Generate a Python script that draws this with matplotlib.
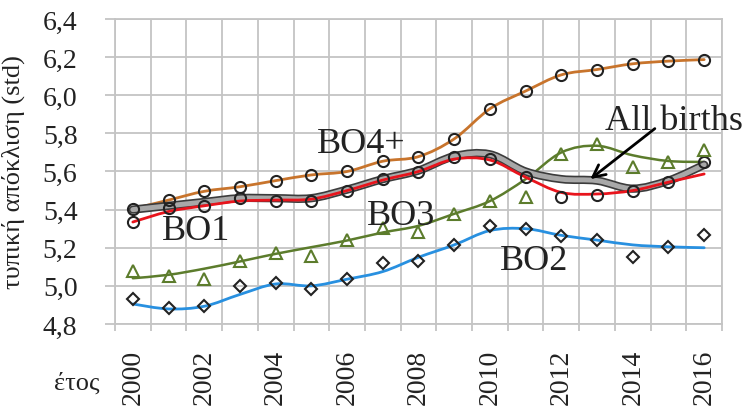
import numpy as np
import matplotlib
matplotlib.use('Agg')
import matplotlib.pyplot as plt
from matplotlib.path import Path
from matplotlib.patches import PathPatch
from matplotlib.ticker import FuncFormatter

plt.rcParams['font.family'] = ['Liberation Serif', 'DejaVu Serif']

years = list(range(2000, 2017))

# raw points (markers)
bo1_pts = [5.335, 5.41, 5.42, 5.46, 5.447, 5.447, 5.50, 5.561, 5.596, 5.675, 5.663, 5.570, 5.465, 5.477, 5.50, 5.544, 5.649]
bo2_pts = [4.931, 4.882, 4.896, 5.001, 5.015, 4.984, 5.036, 5.12, 5.132, 5.215, 5.316, 5.299, 5.26, 5.243, 5.15, 5.206, 5.267]
bo3_pts = [5.08, 5.054, 5.036, 5.132, 5.173, 5.159, 5.243, 5.305, 5.281, 5.377, 5.447, 5.465, 5.69, 5.745, 5.623, 5.65, 5.715]
bo4_pts = [5.404, 5.45, 5.496, 5.52, 5.552, 5.582, 5.60, 5.654, 5.678, 5.771, 5.929, 6.022, 6.107, 6.135, 6.165, 6.179, 6.187]

# smoothed trend lines
bo1_line = [5.335, 5.39, 5.42, 5.445, 5.45, 5.455, 5.50, 5.555, 5.60, 5.665, 5.66, 5.57, 5.49, 5.482, 5.50, 5.544, 5.587]
bo2_line = [4.905, 4.879, 4.893, 4.955, 5.01, 5.0, 5.035, 5.075, 5.15, 5.215, 5.29, 5.30, 5.265, 5.24, 5.215, 5.205, 5.20]
bo3_line = [5.04, 5.058, 5.09, 5.128, 5.168, 5.203, 5.238, 5.28, 5.315, 5.378, 5.445, 5.56, 5.70, 5.735, 5.685, 5.655, 5.65]
bo4_line = bo4_pts
all_line = [5.40, 5.42, 5.44, 5.46, 5.46, 5.46, 5.505, 5.56, 5.605, 5.68, 5.69, 5.60, 5.56, 5.552, 5.51, 5.552, 5.635]

x = np.arange(len(years))


def smooth_path(xs, ys):
    # excel-like smoothed line (catmull-rom as bezier)
    p = np.column_stack([xs, ys]).astype(float)
    ext = np.vstack([p[0], p, p[-1]])
    verts = [p[0]]
    codes = [Path.MOVETO]
    for i in range(len(p) - 1):
        p0, p1, p2, p3 = ext[i], ext[i + 1], ext[i + 2], ext[i + 3]
        verts += [p1 + (p2 - p0) / 6, p2 - (p3 - p1) / 6, p2]
        codes += [Path.CURVE4] * 3
    return Path(verts, codes)


def add_line(ax, ys, color, lw, z):
    ax.add_patch(PathPatch(smooth_path(x, ys), fill=False, edgecolor=color,
                           lw=lw, capstyle='round', joinstyle='round', zorder=z))


fig = plt.figure(figsize=(7.5, 4.14), dpi=100)
ax = fig.add_axes([0.1533, 0.215, 0.8094, 0.7367])

orange = '#c8742c'
red = '#e8141c'
blue = '#2890e0'
green = '#5c7c2c'

add_line(ax, bo4_line, orange, 2.0, 3)
add_line(ax, bo3_line, green, 1.8, 3)
add_line(ax, bo2_line, blue, 2.0, 3)
add_line(ax, all_line, '#3c3c3c', 6.0, 3)
add_line(ax, all_line, '#a8a8a8', 3.6, 3.1)
add_line(ax, bo1_line, red, 2.0, 3.2)

ax.plot(x, bo4_pts, 'o', ms=8, mfc='none', mec='#222222', mew=1.5, zorder=5)
ax.plot(x, bo1_pts, 'o', ms=8, mfc='none', mec='#222222', mew=1.5, zorder=5)
ax.plot(x, bo2_pts, 'D', ms=6, mfc='none', mec='#222222', mew=1.5, zorder=5)
ax.plot(x, bo3_pts, '^', ms=8, mfc='none', mec=green, mew=1.5, zorder=5)

tfont = dict(fontsize=26, color='#222222')
ax.text(5.16, 5.703, 'BO4+', ha='left', va='baseline', zorder=6, **tfont)
ax.text(0.82, 5.246, 'BO1', ha='left', va='baseline', zorder=6, **tfont)
ax.text(6.56, 5.325, 'BO3', ha='left', va='baseline', zorder=6, **tfont)
ax.text(10.28, 5.089, 'BO2', ha='left', va='baseline', zorder=6, **tfont)
ax.text(13.22, 5.824, 'All births', ha='left', va='baseline', zorder=6,
        clip_on=False, **tfont)
ax.annotate('', xy=(12.75, 5.551), xytext=(14.68, 5.834),
            arrowprops=dict(arrowstyle='->', color='black', lw=2,
                            mutation_scale=22), zorder=7)

ax.set_xlim(-0.5, len(years) - 0.5)
ax.set_ylim(4.8, 6.4)
ax.set_yticks(np.arange(4.8, 6.41, 0.2))
ax.yaxis.set_major_formatter(FuncFormatter(lambda v, p: f'{v:.1f}'.replace('.', ',')))
ax.set_xticks(x[::2])
ax.set_xticklabels([str(y) for y in years[::2]], rotation=90)
ax.set_xticks(np.arange(-0.5, len(years)), minor=True)

gc = '#c4c4c4'
ax.grid(True, axis='y', which='major', color=gc, lw=1.3, zorder=0)
ax.grid(True, axis='x', which='minor', color=gc, lw=1.3, zorder=0)
ax.grid(False, axis='x', which='major')
for s in ax.spines.values():
    s.set_color(gc)
    s.set_linewidth(1.3)

ax.tick_params(axis='y', labelsize=20, length=7, width=1.3, color=gc, pad=20, labelcolor='#222222')
ax.tick_params(axis='x', which='major', labelsize=20, length=0, pad=18, labelcolor='#222222')
ax.tick_params(axis='x', which='minor', length=5, width=1.3, color=gc)

ax.set_ylabel('τυπική απόκλιση (std)', fontsize=19, color='#222222')
ax.yaxis.set_label_coords(-0.148, 0.5)
fig.text(77 / 750, 1 - 383 / 414, 'έτος', fontsize=19, ha='center', va='center', color='#222222')

fig.savefig('out.png', dpi=100)
